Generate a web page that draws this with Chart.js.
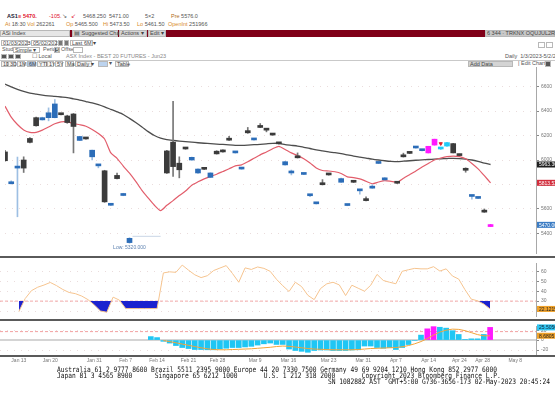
<!DOCTYPE html>
<html>
<head>
<meta charset="utf-8">
<title>AS1 Index</title>
<script src="https://cdn.jsdelivr.net/npm/chart.js@4.4.0/dist/chart.umd.min.js"></script>
<style>
  html, body { margin: 0; padding: 0; background: #fff; }
  body { width: 555px; height: 400px; position: relative; overflow: hidden;
         font-family: "Liberation Sans", Arial, sans-serif; font-size: 5.5px; color: #555; }
  .t { position: absolute; white-space: nowrap; line-height: 7px; }
  .box { position: absolute; box-sizing: border-box; border: 1px solid #b8b8b8; background: #f4f4f4;
         white-space: nowrap; line-height: 5px; padding-left: 1px; color: #444; }
  .or { color: #d8892a; }
  .red { color: #e0102a; }
  canvas { position: absolute; left: 0; }
  .sep { position: absolute; left: 0; width: 555px; height: 2px; background: #5a5a5a; }
  .foot { position: absolute; white-space: pre; font-family: "DejaVu Sans Mono", monospace;
          font-size: 7.5px; line-height: 7px; color: #111; transform: scaleX(0.833); transform-origin: 0 0; }
</style>
</head>
<body>

<!-- quote lines -->
<div class="t" style="left:7px;top:13px;color:#223;font-weight:bold">AS1</div>
<div class="t red" style="left:18px;top:13px">&#8801;</div>
<div class="t red" style="left:23px;top:13px;font-weight:bold">5470.</div>
<div class="t red" style="left:49px;top:13px">-105.</div>
<div class="t" style="left:62px;top:13px">&#8600;</div>
<div class="t red" style="left:71px;top:13px">&#8601;</div>
<div class="t" style="left:83px;top:13px">5468.250&nbsp;&nbsp;5471.00</div>
<div class="t" style="left:145px;top:13px">5&times;2</div>
<div class="t" style="left:171px;top:13px"><span style="color:#b06a1a">Pre</span> 5576.0</div>

<div class="t" style="left:5px;top:21px"><span class="or">At</span> 18:30 <span class="or">Vol</span> 262261</div>
<div class="t" style="left:66px;top:21px"><span class="or">Op</span> 5465.500</div>
<div class="t" style="left:103px;top:21px"><span class="or">Hi</span> 5473.50</div>
<div class="t" style="left:137px;top:21px"><span class="or">Lo</span> 5461.50</div>
<div class="t" style="left:168px;top:21px"><span class="or">OpenInt</span> 251966</div>

<!-- command bar -->
<div style="position:absolute;left:0;top:30px;width:555px;height:7px;background:#800018"></div>
<div class="box" style="left:0;top:30px;width:70px;height:7px;background:#e6e6e6">ASi Index</div>
<div class="box" style="left:72px;top:30px;width:46px;height:7px;background:#d6d6d6">&#9636; Suggested Charts</div>
<div class="box" style="left:119px;top:30px;width:28px;height:7px;background:#d6d6d6">Actions &#9662;</div>
<div class="box" style="left:148px;top:30px;width:18px;height:7px;background:#d6d6d6">Edit &#9662;</div>
<div class="box" style="left:485px;top:30px;width:70px;height:7px;background:#c8c8c8">6 344 &middot; TRKNX OQUJUL2RE-6S</div>

<!-- settings rows -->
<div class="box" style="left:1px;top:40px;width:27px;height:6px;background:#fff">01/03/2023</div>
<div class="t" style="left:28px;top:39px">-</div>
<div class="box" style="left:31px;top:40px;width:26px;height:6px;background:#fff">05/02/2023</div>
<div class="box" style="left:58px;top:40px;width:5px;height:6px;background:#777"></div>
<div class="box" style="left:64px;top:40px;width:5px;height:6px;background:#777"></div>
<div class="box" style="left:70px;top:40px;width:23px;height:6px;background:#fff">Last 6M &#9662;</div>
<div class="box" style="left:538px;top:42px;width:7px;height:6px;background:#fff"></div>
<div class="box" style="left:546px;top:42px;width:7px;height:6px;background:#fff"></div>

<div class="t" style="left:2px;top:46px">Study</div>
<div class="box" style="left:13px;top:47px;width:27px;height:6px;background:#fff">Simple &#9662;</div>
<div class="t" style="left:43px;top:46px">Period</div>
<div class="box" style="left:54px;top:47px;width:6px;height:6px;background:#666;color:#fff">5</div>
<div class="t" style="left:61px;top:46px">Offset</div>
<div class="box" style="left:73px;top:47px;width:10px;height:6px;background:#fff"></div>

<div class="box" style="left:1px;top:54px;width:6px;height:5px;background:#555"></div>
<div class="box" style="left:8px;top:54px;width:6px;height:5px;background:#555"></div>
<div class="box" style="left:15px;top:54px;width:6px;height:5px;background:#555"></div>
<div class="t" style="left:32px;top:53px">&#9744; Local</div>
<div class="t" style="left:66px;top:53px;color:#888">ASX Index - BEST 20 FUTURES - Jun23</div>
<div class="t" style="left:505px;top:53px">Daily&nbsp;&nbsp;1/3/2023-5/2/2023</div>

<div style="position:absolute;left:0;top:60px;width:555px;height:1px;background:#c9c9c9"></div>
<div class="box" style="left:1px;top:61px;width:7px;height:6px">1D</div>
<div class="box" style="left:8px;top:61px;width:8px;height:6px">3D</div>
<div class="box" style="left:17px;top:61px;width:8px;height:6px">1M</div>
<div class="box" style="left:27px;top:61px;width:9px;height:6px;background:#a9c4e6">6M</div>
<div class="box" style="left:37px;top:61px;width:10px;height:6px">YTD</div>
<div class="box" style="left:47px;top:61px;width:7px;height:6px">1Y</div>
<div class="box" style="left:55px;top:61px;width:8px;height:6px">5Y</div>
<div class="box" style="left:65px;top:61px;width:9px;height:6px">Max</div>
<div class="box" style="left:75px;top:61px;width:17px;height:6px">Daily &#9662;</div>
<div class="box" style="left:98px;top:61px;width:10px;height:6px;background:#bcd3ee"></div>
<div class="t" style="left:109px;top:60px">&#9662;</div>
<div class="box" style="left:115px;top:61px;width:14px;height:6px">Table</div>
<div class="box" style="left:468px;top:61px;width:45px;height:6px;background:#d4d4d4">Add Data</div>
<div class="t" style="left:518px;top:60px">| Edit Chart</div>
<div class="box" style="left:545px;top:61px;width:6px;height:6px;background:#555"></div>

<canvas id="mainChart" width="555" height="196" style="top:62px"></canvas>
<canvas id="rsiChart" width="555" height="63" style="top:258px"></canvas>
<canvas id="macdChart" width="555" height="45" style="top:321px"></canvas>

<div class="sep" style="top:256px"></div>
<div class="sep" style="top:319px"></div>
<div class="sep" style="top:355px"></div>

<div class="foot" style="left:57px;top:366px">Australia 61 2 9777 8600 Brazil 5511 2395 9000 Europe 44 20 7330 7500 Germany 49 69 9204 1210 Hong Kong 852 2977 6000</div>
<div class="foot" style="left:57px;top:372px">Japan 81 3 4565 8900      Singapore 65 6212 1000       U.S. 1 212 318 2000       Copyright 2023 Bloomberg Finance L.P.</div>
<div class="foot" style="left:328px;top:378px">SN 1082882 AST  GMT+5:00 G736-3656-173 02-May-2023 20:45:24</div>

<script>
// trading days are plotted by index (0 = Jan 10, 78 = Apr 28)
const tickDays   = [3, 8, 15, 20, 25, 30, 34.6, 40.6, 45.9, 52.3, 57.8, 63, 68.2, 73.1, 76.8, 82];
const tickLabels = ['Jan 13', 'Jan 20', 'Jan 31', 'Feb 7', 'Feb 14', 'Feb 21', 'Feb 28', 'Mar 9',
                    'Mar 16', 'Mar 23', 'Mar 31', 'Apr 7', 'Apr 14', 'Apr 24', 'Apr 28', 'May 8'];

const priceTicks = [5400, 5600, 5800, 6000, 6200, 6400, 6600];
const rsiTicks   = [20, 30, 40, 50, 60];
const macdTicks  = [-20, 0, 20];

const opens = [6066, 5806, 5934, 6000, 6176, 6346, 6328, 6346, 6346, 6376,
               6360, 6376, 6160, 6178, 6026, 5952, 5912, 5630, 5874, 5710,
               5325, null, null, null, null, null, 6074, 6146, 5974, 6098,
               6000, 5894, 5930, 5858, 6072, 6080, 6170, 6058, 5926, 6240,
               6164, 6274, 6252, 6212, 6140, 5960, 5894, 6026, 5882, 5708,
               5642, 5806, 5886, null, 5818, 5628, 5826, 5748, 5676, 5770,
               5972, 5838, null, 5818, 6034, 6062, 6098, 6076, 6058, 6122,
               6090, 6114, 6134, 6044, 5924, 5702, 5686, 5582, 5456];
const highs = [6080, 5830, 6024, 6026, 6184, 6350, 6350, 6426, 6494, 6380,
               6366, 6380, 6194, 6180, 6082, 5964, 5916, 5640, 5894, 5728,
               5365, null, null, null, null, null, 6080, 6480, 6026, 6100,
               6024, 5928, 5932, 5896, 6076, 6084, 6194, 6068, 5936, 6266,
               6174, 6298, 6256, 6216, 6144, 5990, 5918, 6058, 5892, 5718,
               5652, 5840, 5890, null, 5852, 5638, 5830, 5758, 5700, 5798,
               5982, 5856, null, 5822, 6056, 6066, 6108, 6086, 6112, 6170,
               6100, 6142, 6136, 6048, 5936, 5712, 5696, 5600, 5474];
const lows = [5990, 5804, 5536, 5898, 6140, 6276, 6326, 6320, 6344, 6368,
              6300, 6058, 6158, 6170, 6000, 5936, 5654, 5628, 5846, 5708,
              5320, null, null, null, null, null, 5890, 5866, 5854, 6088,
              5998, 5890, 5922, 5856, 6048, 6064, 6160, 6056, 5924, 6218,
              6162, 6264, 6230, 6202, 6130, 5958, 5878, 6016, 5880, 5700,
              5640, 5796, 5876, null, 5816, 5626, 5816, 5720, 5666, 5768,
              5970, 5836, null, 5808, 6024, 6052, 6096, 6074, 6058, 6122,
              6088, 6114, 6058, 6034, 5900, 5680, 5684, 5572, 5456];
const closes = [5994, 5812, 5946, 5934, 6144, 6280, 6346, 6386, 6458, 6370,
                6306, 6274, 6192, 6172, 6080, 5962, 5658, 5638, 5848, 5726,
                5360, null, null, null, null, null, 5894, 5946, 5920, 6090,
                6022, 5926, 5924, 5894, 6050, 6066, 6162, 6066, 5934, 6222,
                6172, 6266, 6244, 6204, 6132, 5986, 5902, 6018, 5890, 5716,
                5650, 5798, 5878, null, 5848, 5636, 5818, 5756, 5668, 5778,
                5980, 5854, null, 5810, 6026, 6054, 6106, 6084, 6112, 6170,
                6098, 6142, 6058, 6036, 5916, 5710, 5694, 5574, 5470];

const maLong = [6620, 6598, 6578, 6560, 6546, 6538, 6530, 6524, 6520, 6515,
                6510, 6500, 6490, 6478, 6466, 6452, 6434, 6414, 6394, 6372,
                6340, 6306, 6270, 6232, 6200, 6178, 6166, 6160, 6155, 6150,
                6146, 6141, 6137, 6134, 6130, 6127, 6123, 6120, 6120, 6122,
                6125, 6128, 6132, 6136, 6136, 6126, 6120, 6114, 6104, 6094,
                6082, 6074, 6066, 6060, 6052, 6042, 6032, 6024, 6016, 6007,
                6000, 5994, 5989, 5986, 5990, 5994, 5998, 6001, 6004, 6007,
                6010, 6012, 6014, 6012, 6008, 6000, 5988, 5974, 5963.305];
const maShort = [6440, 6350, 6290, 6246, 6226, 6226, 6244, 6270, 6296, 6312,
                 6312, 6298, 6288, 6276, 6250, 6216, 6172, 6058, 6014, 5950,
                 5892, 5825, 5752, 5690, 5630, 5586, 5630, 5668, 5710, 5746,
                 5794, 5822, 5846, 5866, 5884, 5906, 5928, 5952, 5960, 5986,
                 6014, 6042, 6066, 6092, 6112, 6086, 6058, 6036, 6010, 5975,
                 5935, 5914, 5910, 5904, 5890, 5862, 5856, 5846, 5826, 5806,
                 5820, 5832, 5826, 5818, 5850, 5880, 5910, 5942, 5972, 6000,
                 6016, 6028, 6032, 6028, 6010, 5972, 5928, 5872, 5813.520];

const rsi = [null, null, null, 19.4, 32.5, 40.5, 44, 46.2, 48.8, 45.6,
             41.7, 38.7, 37.5, 35.1, 31.5, 26.2, 20, 18.8, 34, 31,
             22.5, 22.5, 22.5, 22.5, 22.5, 22.5, 58.4, 59.5, 59, 66.3,
             61.2, 56.5, 53.7, 55.6, 60.8, 63.3, 65.8, 57.8, 49, 63.5,
             61.9, 64.4, 63, 60, 52, 45.5, 39.7, 49, 44.6, 35.8,
             31.5, 42.6, 47.4, 49, 46.3, 35.6, 46, 43, 40, 46,
             56.9, 50.8, 49, 47.5, 60, 61.6, 63, 62.5, 62.5, 64.7,
             60.3, 62.5, 55.3, 52.2, 41.5, 32, 30.3, 27, 22.1215];

const macdHist = [null, null, null, null, null, null, null, null, null, null,
                  null, null, null, null, null, null, null, null, null, null,
                  null, null, null, null, 7, 5, -2.5, -6, -11, -15,
                  -17, -19, -19, -19.5, -19.5, -17.6, -16.4, -15, -15, -13.8,
                  -12.6, -10, -7.5, -6, -8.8, -8.8, -18, -21, -22.6, -24.5,
                  -21, -20, -20, -21, -21, -21, -20, -19.5, -12, -12,
                  -15, -16.4, -15, -19, -15, -9, -1, 10, 22.6, 27,
                  25.8, 24, 18.9, 11.3, 1.3, 2.5, 2.5, 11.3, 25.5056];
const macdSignal = [null, null, null, null, null, null, null, null, null, null,
                    null, null, null, null, null, null, null, null, null, null,
                    null, null, null, null, null, null, -1, -3, -5.5, -8,
                    -10.5, -13, -15.5, -17.5, -19, -19.5, -19.5, -19, -18.5, -18,
                    -17.5, -16.5, -15.5, -14.5, -13, -12, -12.5, -14, -15.5, -17,
                    -18, -18.5, -19, -19.5, -19.5, -19.5, -19.5, -19, -18, -17,
                    -16.5, -16, -15.5, -15, -13.5, -11, -7.5, -3, 3, 10,
                    16, 20, 22, 21.5, 19, 15, 11, 8.5, 8.6805];

// days flagged by the terminal's study (sell setup / buy setup) and the alert mark
const hotDays = [68, 69, 78];
const coolDays = [70, 71];
const alertDays = [70];
const alertPrices = [6134];

const X_MIN = 0, X_MAX = 85.3;

function pts(arr) {
    return arr.map(function(v, i) { return { x: i, y: v }; });
}

function bodyColor(i) {
    if (hotDays.includes(i)) return '#ff19ff';
    if (coolDays.includes(i)) return '#1fcaf7';
    return closes[i] >= opens[i] ? '#2c6db8' : '#3b3b3b';
}
function wickColor(i) {
    if (hotDays.includes(i)) return '#ff19ff';
    if (coolDays.includes(i)) return '#1fcaf7';
    return closes[i] >= opens[i] ? '#9dbfe3' : '#777';
}

function fixedTicks(values) {
    return function(scale) { scale.ticks = values.map(function(v) { return { value: v }; }); };
}

function rightAxis(min, max, values) {
    return {
        position: 'right', min: min, max: max,
        afterBuildTicks: fixedTicks(values),
        afterFit: function(scale) { scale.width = 19; },
        ticks: {
            font: { size: 5, family: 'Liberation Sans' }, color: '#777', padding: 2,
            callback: function(v) { return String(v); }
        },
        grid: { color: '#eadcdc', tickColor: '#888', tickLength: 3 },
        border: { display: true, color: '#a8a8a8', width: 1, dash: [1, 6] }
    };
}

// value tags on the right axis
const tagPlugin = {
    id: 'tags',
    afterDraw: function(chart, args, opts) {
        const ctx = chart.ctx, y = chart.scales.y, area = chart.chartArea;
        (opts.items || []).forEach(function(t) {
            const py = y.getPixelForValue(t.value);
            ctx.save();
            ctx.fillStyle = t.bg;
            ctx.fillRect(area.right + 1, py - 3, 555 - area.right - 1, 6);
            ctx.fillStyle = t.fg;
            ctx.font = '5px "Liberation Sans"';
            ctx.textBaseline = 'middle';
            ctx.fillText(t.text, area.right + 3, py + 0.5);
            ctx.restore();
        });
    }
};

// horizontal reference lines
const refPlugin = {
    id: 'refs',
    beforeDatasetsDraw: function(chart, args, opts) {
        const ctx = chart.ctx, y = chart.scales.y, area = chart.chartArea;
        (opts.lines || []).forEach(function(l) {
            const py = y.getPixelForValue(l.value);
            ctx.save();
            ctx.strokeStyle = l.color;
            ctx.lineWidth = l.width;
            ctx.setLineDash(l.dash || []);
            ctx.beginPath();
            ctx.moveTo(area.left, py);
            ctx.lineTo(area.right, py);
            ctx.stroke();
            ctx.restore();
        });
    }
};

// "Low" annotation under the lowest candle
const lowPlugin = {
    id: 'lowMark',
    afterDatasetsDraw: function(chart) {
        let lo = Infinity, at = -1;
        lows.forEach(function(v, i) { if (v !== null && v < lo) { lo = v; at = i; } });
        const ctx = chart.ctx, x = chart.scales.x, y = chart.scales.y;
        const px = x.getPixelForValue(at);
        ctx.save();
        ctx.strokeStyle = '#c9d6e6';
        ctx.lineWidth = 1;
        ctx.beginPath();
        ctx.moveTo(px + 3, y.getPixelForValue(closes[at]) - 2);
        ctx.lineTo(x.getPixelForValue(at + 5), y.getPixelForValue(closes[at]) - 2);
        ctx.stroke();
        ctx.fillStyle = '#5a7fae';
        ctx.font = '5px "Liberation Sans"';
        ctx.textAlign = 'center';
        ctx.textBaseline = 'top';
        ctx.fillText('Low: ' + lo.toFixed(3), px, y.getPixelForValue(lo) + 2);
        ctx.restore();
    }
};

const days = opens.map(function(v, i) { return i; });
const last = opens.length - 1;

// price pane
new Chart(document.getElementById('mainChart'), {
    type: 'bar',
    data: {
        datasets: [
            {
                type: 'line', data: pts(maLong), borderColor: '#4d4d4d', borderWidth: 1.3,
                pointRadius: 0, tension: 0.2, order: 3
            },
            {
                type: 'line', data: pts(maShort), borderColor: '#e25d6b', borderWidth: 1.2,
                pointRadius: 0, tension: 0.2, order: 2
            },
            {
                data: days.map(function(i) { return { x: i, y: opens[i] === null ? null : [lows[i], highs[i]] }; }),
                backgroundColor: days.map(wickColor), barThickness: 1, grouped: false, order: 1
            },
            {
                data: days.map(function(i) {
                    return { x: i, y: opens[i] === null ? null : [Math.min(opens[i], closes[i]), Math.max(opens[i], closes[i])] };
                }),
                backgroundColor: days.map(bodyColor), barThickness: 5, minBarLength: 2, grouped: false, order: 0
            },
            {
                type: 'scatter',
                data: alertDays.map(function(d, k) { return { x: d, y: alertPrices[k] }; }),
                pointStyle: 'triangle', rotation: 180, pointRadius: 1.8,
                backgroundColor: '#e0202a', borderColor: '#e0202a', order: -1
            }
        ]
    },
    options: {
        animation: false, responsive: false,
        layout: { padding: 0 },
        plugins: {
            legend: { display: false }, tooltip: { enabled: false },
            tags: { items: [
                { value: maLong[last], bg: '#1e1e1e', fg: '#fff', text: maLong[last].toFixed(3) },
                { value: maShort[last], bg: '#d22d3c', fg: '#fff', text: maShort[last].toFixed(3) },
                { value: closes[last], bg: '#3b7cc4', fg: '#fff', text: closes[last].toFixed(3) }
            ] }
        },
        scales: {
            x: { type: 'linear', min: X_MIN, max: X_MAX, offset: false, display: false },
            y: rightAxis(5240, 6760, priceTicks)
        }
    },
    plugins: [tagPlugin, lowPlugin]
});

// RSI pane
new Chart(document.getElementById('rsiChart'), {
    type: 'line',
    data: {
        datasets: [{
            data: pts(rsi), borderColor: '#f6c48f', borderWidth: 1, pointRadius: 0,
            fill: { target: { value: 30 }, above: 'rgba(0,0,0,0)', below: '#1d22cf' }
        }]
    },
    options: {
        animation: false, responsive: false,
        layout: { padding: 0 },
        plugins: {
            legend: { display: false }, tooltip: { enabled: false },
            refs: { lines: [{ value: 30, color: '#f2a9a9', width: 1, dash: [3, 2] }] },
            tags: { items: [{ value: rsi[last], bg: '#f0a22a', fg: '#222', text: rsi[last].toFixed(4) }] }
        },
        scales: {
            x: { type: 'linear', min: X_MIN, max: X_MAX, display: false },
            y: rightAxis(15, 68.4, rsiTicks)
        }
    },
    plugins: [refPlugin, tagPlugin]
});

// MACD pane
new Chart(document.getElementById('macdChart'), {
    type: 'bar',
    data: {
        datasets: [
            {
                type: 'line', data: pts(macdSignal), borderColor: '#f2a43a', borderWidth: 1,
                pointRadius: 0, order: 0
            },
            {
                data: pts(macdHist), barThickness: 5, grouped: false, order: 1,
                backgroundColor: days.map(function(i) { return hotDays.includes(i) ? '#ff19ff' : '#1fc6f4'; })
            }
        ]
    },
    options: {
        animation: false, responsive: false,
        layout: { padding: 0 },
        plugins: {
            legend: { display: false }, tooltip: { enabled: false },
            refs: { lines: [
                { value: 0, color: '#d4d4d4', width: 2 },
                { value: 17, color: '#f2a0a0', width: 1, dash: [3, 2] }
            ] },
            tags: { items: [
                { value: macdHist[last], bg: '#2ec6f2', fg: '#123', text: macdHist[last].toFixed(4) },
                { value: macdSignal[last], bg: '#f0a22a', fg: '#222', text: macdSignal[last].toFixed(4) }
            ] }
        },
        scales: {
            x: {
                type: 'linear', min: X_MIN, max: X_MAX, offset: false,
                afterBuildTicks: fixedTicks(tickDays),
                afterFit: function(scale) { scale.height = 10; },
                ticks: {
                    autoSkip: false, maxRotation: 0, padding: 2,
                    font: { size: 5, family: 'Liberation Sans' }, color: '#777',
                    callback: function(v) { return tickLabels[tickDays.indexOf(v)]; }
                },
                grid: { display: false, drawTicks: false },
                border: { display: false }
            },
            y: rightAxis(-32, 28.3, macdTicks)
        }
    },
    plugins: [refPlugin, tagPlugin]
});
</script>
</body>
</html>
